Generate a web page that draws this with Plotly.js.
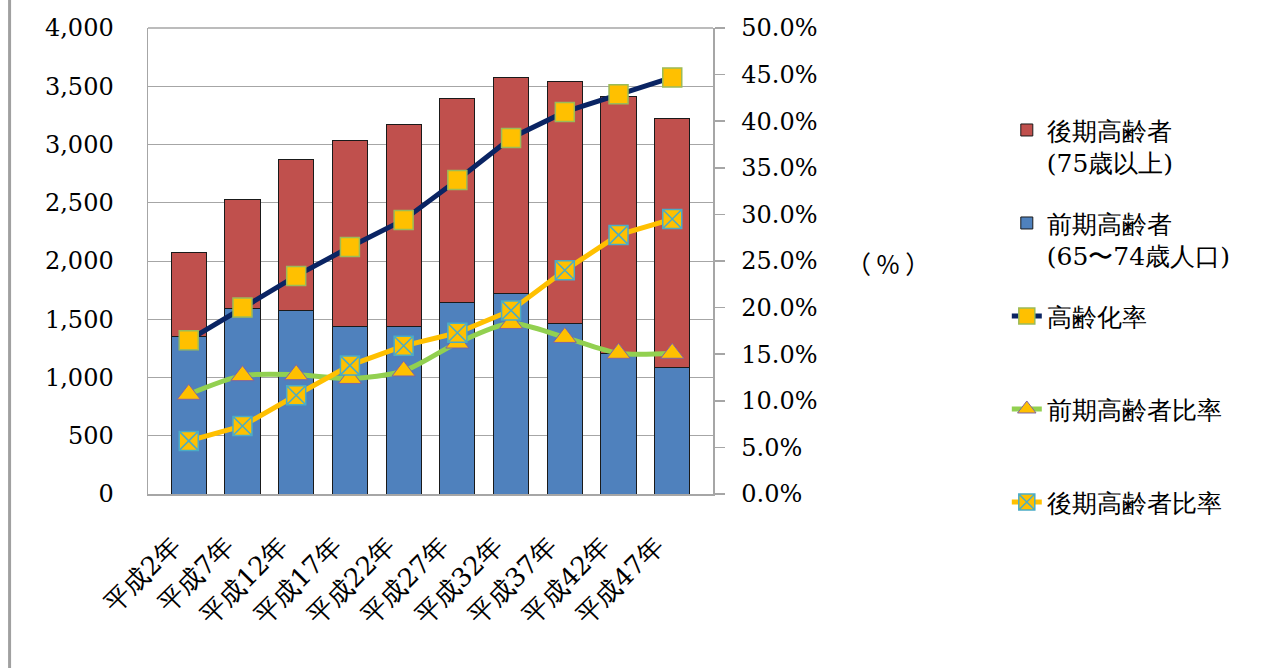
<!DOCTYPE html>
<html>
<head>
<meta charset="utf-8">
<script src="https://cdn.plot.ly/plotly-3.0.1.min.js"></script>
<style>
  html, body { margin: 0; padding: 0; background: #ffffff; }
  #chart { width: 1268px; height: 668px; }
</style>
</head>
<body>
<div id="chart"></div>
<script>
// 年次（和暦）
const years = ['平成2年', '平成7年', '平成12年', '平成17年', '平成22年',
               '平成27年', '平成32年', '平成37年', '平成42年', '平成47年'];

// 人口（左軸）
const earlyElderly = [1350, 1594, 1579, 1436, 1438, 1646, 1723, 1465, 1202, 1084]; // 前期高齢者 65〜74歳
const lateElderly  = [725, 936, 1291, 1597, 1736, 1753, 1854, 2078, 2212, 2141];   // 後期高齢者 75歳以上

// 比率（右軸, %）
const agingRate      = [16.5, 20.0, 23.4, 26.5, 29.4, 33.7, 38.2, 41.0, 42.9, 44.7]; // 高齢化率
const earlyRatio     = [10.7, 12.7, 12.8, 12.4, 13.2, 16.2, 18.3, 16.8, 15.1, 15.1]; // 前期高齢者比率
const lateRatio      = [5.7, 7.3, 10.6, 13.8, 15.9, 17.3, 19.7, 24.0, 27.8, 29.5];   // 後期高齢者比率

// 欧文はセリフ体、和文はシステムの代替フォントに任せる
const serif = 'DejaVu Serif, serif';
const blank = '<br> ';

const traces = [
  {
    type: 'bar', x: years, y: earlyElderly, name: '前期高齢者<br>(65〜74歳人口)',
    legendgroup: 'g2', legendrank: 2,
    marker: { color: '#4F81BD', line: { color: '#1a1a1a', width: 1 } },
    hoverinfo: 'x+y'
  },
  {
    type: 'bar', x: years, y: lateElderly, name: '後期高齢者<br>(75歳以上)',
    legendgroup: 'g1', legendrank: 1,
    marker: { color: '#C0504D', line: { color: '#1a1a1a', width: 1 } },
    hoverinfo: 'x+y'
  },
  {
    type: 'scatter', mode: 'lines+markers', x: years, y: agingRate, yaxis: 'y2',
    name: '高齢化率' + blank, legendgroup: 'g3', legendrank: 3,
    line: { color: '#0A2463', width: 5 },
    marker: { symbol: 'square', size: 19, color: '#FFC000', line: { color: '#9BBB59', width: 1.5 } }
  },
  {
    type: 'scatter', mode: 'lines+markers', x: years, y: earlyRatio, yaxis: 'y2',
    name: '前期高齢者比率' + blank, legendgroup: 'g4', legendrank: 4,
    line: { color: '#92D050', width: 5, shape: 'spline', smoothing: 0.8 },
    marker: { symbol: 'triangle-up', size: 20, color: '#FFC000', line: { color: '#8064A2', width: 1 } }
  },
  {
    type: 'scatter', mode: 'lines+markers', x: years, y: lateRatio, yaxis: 'y2',
    name: '後期高齢者比率' + blank, legendgroup: 'g5', legendrank: 5,
    line: { color: '#FFC000', width: 5 },
    marker: { symbol: 'square-x', size: 19, color: '#FFC000', line: { color: '#4BACC6', width: 1.5 } }
  }
];

const layout = {
  width: 1268, height: 668,
  margin: { l: 148, r: 555, t: 28, b: 174 },
  paper_bgcolor: '#ffffff', plot_bgcolor: '#ffffff',
  barmode: 'stack', bargap: 0.345,
  font: { family: serif, color: '#000000', size: 24 },
  showlegend: true,
  legend: {
    x: 1.52, xanchor: 'left', y: 0.83, yanchor: 'top',
    traceorder: 'grouped', tracegroupgap: 25, valign: 'top',
    font: { family: serif, size: 25, color: '#000000' },
    bgcolor: 'rgba(0,0,0,0)', borderwidth: 0
  },
  xaxis: {
    type: 'category', tickangle: -45, ticks: '',
    tickfont: { family: serif, size: 26 },
    ticklabelstandoff: 24, ticklabelshift: -16,
    showline: true, linecolor: '#A6A6A6', linewidth: 2,
    showgrid: false, zeroline: false, fixedrange: true
  },
  yaxis: {
    range: [0, 4000], dtick: 500, tickformat: ',d',
    tickfont: { family: serif, size: 24 },
    ticks: '', ticklabelstandoff: 28,
    showgrid: true, gridcolor: '#A6A6A6', gridwidth: 1,
    showline: true, linecolor: '#A6A6A6', linewidth: 1.5, mirror: false,
    zeroline: false, fixedrange: true
  },
  yaxis2: {
    overlaying: 'y', side: 'right',
    range: [0, 50], dtick: 5, tickformat: '.1f', ticksuffix: '%',
    tickfont: { family: serif, size: 24 },
    ticks: 'outside', ticklen: 10, tickcolor: '#A6A6A6', tickwidth: 1.5,
    ticklabelstandoff: 12,
    showgrid: false, showline: true, linecolor: '#A6A6A6', linewidth: 1.5,
    zeroline: false, fixedrange: true
  },
  annotations: [
    {
      xref: 'paper', yref: 'paper', x: 1.31, y: 0.495, xanchor: 'center', yanchor: 'middle',
      text: '（ % ）', showarrow: false,
      font: { family: 'Noto Sans CJK JP, sans-serif', size: 25, color: '#000000' }
    }
  ],
  shapes: [
    // 図枠の左端
    { type: 'line', xref: 'paper', yref: 'paper', x0: -0.245, x1: -0.245, y0: -0.4, y1: 1.1,
      line: { color: '#A0A0A0', width: 3 } },
    // プロット領域の上端
    { type: 'line', xref: 'paper', yref: 'paper', x0: 0, x1: 1, y0: 1, y1: 1,
      line: { color: '#A6A6A6', width: 1.5 } }
  ]
};

Plotly.newPlot('chart', traces, layout, { displayModeBar: false, staticPlot: true });
</script>
</body>
</html>
